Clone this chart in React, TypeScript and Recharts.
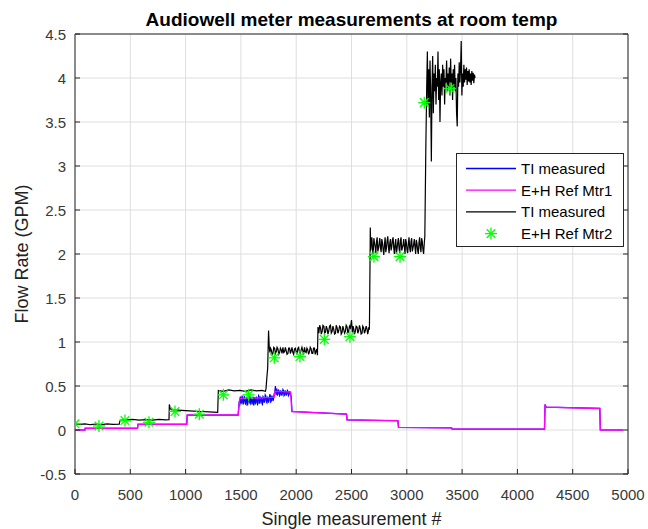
import {
  ComposedChart,
  Line,
  Scatter,
  XAxis,
  YAxis,
  CartesianGrid,
  Legend,
} from 'recharts';

const FONT = '"Liberation Sans", Arial, Helvetica, sans-serif';
const AXIS = '#262626';
const TEXT = '#383838';

const xTicks = [0, 500, 1000, 1500, 2000, 2500, 3000, 3500, 4000, 4500, 5000];
const yTicks = [-0.5, 0, 0.5, 1, 1.5, 2, 2.5, 3, 3.5, 4, 4.5];

// TI measured (blue), same as ref meter 1 except around 1500-1950
const tiMeasured1: [number, number][] = [
  [0, 0], [90, 0], [92, 0.02], [565, 0.02], [570, 0.065], [1010, 0.065], [1015, 0.17], [1475, 0.17],
  [1485, 0.33], [1490, 0.28], [1495, 0.38], [1500, 0.32], [1505, 0.3], [1510, 0.39], [1515, 0.36], [1520, 0.29],
  [1525, 0.31], [1530, 0.38], [1535, 0.37], [1540, 0.3], [1545, 0.29], [1550, 0.37], [1555, 0.35], [1560, 0.28],
  [1565, 0.32], [1570, 0.39], [1575, 0.38], [1580, 0.31], [1585, 0.3], [1590, 0.37], [1595, 0.36], [1600, 0.29],
  [1605, 0.33], [1610, 0.38], [1615, 0.28], [1620, 0.35], [1625, 0.37], [1630, 0.3], [1635, 0.31], [1640, 0.38],
  [1645, 0.35], [1650, 0.29], [1655, 0.3], [1660, 0.39], [1665, 0.38], [1670, 0.3], [1675, 0.32], [1680, 0.37],
  [1685, 0.36], [1690, 0.3], [1695, 0.29], [1700, 0.38], [1705, 0.37], [1710, 0.31], [1715, 0.33], [1720, 0.4],
  [1725, 0.39], [1730, 0.32], [1735, 0.31], [1740, 0.38], [1745, 0.36], [1750, 0.31], [1755, 0.34], [1760, 0.4],
  [1765, 0.4], [1770, 0.32], [1775, 0.33], [1780, 0.39], [1785, 0.37], [1790, 0.33], [1795, 0.35], [1800, 0.41],
  [1805, 0.42], [1812, 0.5], [1818, 0.4], [1825, 0.47], [1830, 0.39], [1835, 0.41], [1840, 0.46], [1845, 0.44],
  [1850, 0.39], [1855, 0.4], [1860, 0.45], [1865, 0.43], [1870, 0.39], [1875, 0.41], [1880, 0.46], [1885, 0.45],
  [1890, 0.39], [1895, 0.4], [1900, 0.45], [1905, 0.43], [1910, 0.39], [1915, 0.41], [1920, 0.45], [1925, 0.44],
  [1930, 0.39], [1935, 0.4], [1940, 0.44], [1945, 0.42], [1955, 0.38],
  [1962, 0.21], [2455, 0.18], [2460, 0.115], [2920, 0.105], [2925, 0.03], [3405, 0.025], [3410, 0.01],
  [4245, 0.01], [4250, 0.29], [4260, 0.26], [4745, 0.245], [4750, 0], [4955, 0],
];

const refMeter1: [number, number][] = [
  [0, 0], [90, 0], [92, 0.02], [565, 0.02], [570, 0.065], [1010, 0.065], [1015, 0.17], [1475, 0.17],
  [1490, 0.36], [1800, 0.37], [1808, 0.44], [1950, 0.43], [1960, 0.21], [2455, 0.18], [2460, 0.115],
  [2920, 0.105], [2925, 0.03], [3405, 0.025], [3410, 0.01], [4245, 0.01], [4250, 0.29], [4260, 0.26],
  [4745, 0.245], [4750, 0], [4955, 0],
];

// second TI measured trace (black)
const tiMeasured2: [number, number][] = [
  [0, 0.07], [40, 0.065], [90, 0.07], [140, 0.06], [190, 0.068], [240, 0.062], [290, 0.07], [340, 0.064], [400, 0.066],
  [407, 0.11], [460, 0.115], [520, 0.12], [580, 0.112], [640, 0.118], [700, 0.113], [760, 0.12], [820, 0.115], [850, 0.117],
  [853, 0.29], [860, 0.25], [870, 0.23], [930, 0.225], [1000, 0.22], [1070, 0.215], [1140, 0.21], [1210, 0.205], [1290, 0.2],
  [1296, 0.45], [1340, 0.44], [1390, 0.455], [1440, 0.445], [1490, 0.45], [1540, 0.44], [1590, 0.455], [1640, 0.445],
  [1690, 0.45], [1722, 0.44], [1727, 0.47], [1735, 0.6], [1742, 0.7], [1750, 1.13], [1756, 0.95], [1762, 0.88],
  [1768, 0.93], [1775, 0.91], [1782, 0.86], [1790, 0.87], [1797, 0.94], [1805, 0.93], [1812, 0.87], [1820, 0.89],
  [1827, 0.94], [1835, 0.92], [1842, 0.86], [1850, 0.88], [1857, 0.93], [1865, 0.91], [1872, 0.87], [1880, 0.94],
  [1887, 0.88], [1895, 0.89], [1902, 0.94], [1910, 0.9], [1917, 0.86], [1925, 0.87], [1932, 0.93], [1940, 0.93],
  [1947, 0.87], [1955, 0.9], [1962, 0.94], [1970, 0.88], [1977, 0.86], [1985, 0.92], [1992, 0.93], [2000, 0.89],
  [2007, 0.86], [2015, 0.93], [2022, 0.94], [2030, 0.88], [2037, 0.87], [2045, 0.91], [2052, 0.94], [2060, 0.9],
  [2067, 0.86], [2075, 0.94], [2082, 0.89], [2090, 0.88], [2097, 0.93], [2105, 0.91], [2112, 0.86], [2120, 0.89],
  [2127, 0.94], [2135, 0.92], [2142, 0.87], [2150, 0.87], [2157, 0.93], [2165, 0.93], [2172, 0.86], [2180, 0.9],
  [2187, 0.92], [2192, 0.85],
  [2197, 1.17], [2205, 1.1], [2212, 1.19], [2220, 1.16], [2227, 1.09], [2235, 1.12], [2242, 1.19], [2250, 1.18],
  [2257, 1.1], [2265, 1.11], [2272, 1.18], [2280, 1.15], [2287, 1.09], [2295, 1.13], [2302, 1.18], [2310, 1.19],
  [2317, 1.1], [2325, 1.12], [2332, 1.18], [2340, 1.14], [2347, 1.09], [2355, 1.1], [2362, 1.19], [2370, 1.16],
  [2377, 1.1], [2385, 1.13], [2392, 1.18], [2400, 1.17], [2407, 1.09], [2415, 1.11], [2422, 1.18], [2430, 1.14],
  [2437, 1.1], [2445, 1.12], [2452, 1.19], [2460, 1.17], [2467, 1.1], [2475, 1.13], [2482, 1.18], [2490, 1.16],
  [2500, 1.25], [2508, 1.11], [2514, 1.18], [2520, 1.15], [2527, 1.09], [2535, 1.12], [2542, 1.18], [2550, 1.17],
  [2557, 1.1], [2565, 1.13], [2572, 1.19], [2580, 1.15], [2587, 1.09], [2595, 1.1], [2602, 1.18], [2610, 1.16],
  [2617, 1.1], [2625, 1.13], [2632, 1.18], [2640, 1.15], [2646, 1.09], [2652, 1.12], [2657, 1.17], [2662, 1.14],
  [2667, 1.84], [2670, 2.3], [2674, 2.04], [2678, 2.12], [2684, 2.19], [2690, 2.05], [2696, 2.0], [2702, 2.18],
  [2708, 2.13], [2714, 2.08], [2720, 2.01], [2726, 2.14], [2732, 2.19], [2738, 2.03], [2744, 2.06], [2750, 2.12],
  [2756, 2.18], [2762, 2.07], [2768, 2.02], [2774, 2.17], [2780, 2.13], [2786, 2.05], [2792, 1.99], [2798, 2.11],
  [2804, 2.19], [2810, 2.02], [2816, 2.07], [2822, 2.15], [2828, 2.2], [2834, 2.08], [2840, 2.01], [2846, 2.12],
  [2852, 2.17], [2858, 2.04], [2864, 2.08], [2870, 2.16], [2876, 2.19], [2882, 2.07], [2888, 2.0], [2894, 2.11],
  [2900, 2.17], [2906, 2.0], [2912, 2.06], [2918, 2.13], [2924, 2.18], [2930, 2.06], [2936, 2.01], [2942, 2.15],
  [2948, 2.19], [2954, 2.04], [2960, 2.07], [2966, 2.1], [2972, 2.17], [2978, 2.08], [2984, 2.0], [2990, 2.17],
  [2996, 2.13], [3002, 2.05], [3008, 2.01], [3014, 2.12], [3020, 2.19], [3026, 2.07], [3032, 2.02], [3038, 2.14],
  [3044, 2.18], [3050, 2.03], [3056, 2.07], [3062, 2.11], [3068, 2.17], [3074, 2.08], [3080, 2.0], [3086, 2.16],
  [3092, 2.12], [3098, 2.04], [3104, 2.0], [3110, 2.13], [3116, 2.19], [3122, 2.07], [3128, 2.02], [3134, 2.18],
  [3140, 2.14], [3146, 2.05], [3152, 2.0], [3158, 2.12], [3163, 2.2],
  [3172, 3.2], [3180, 3.9], [3186, 4.3], [3192, 3.7], [3198, 4.1], [3204, 3.55], [3210, 4.2], [3216, 3.8],
  [3222, 3.05], [3228, 3.9], [3234, 4.25], [3240, 3.6], [3246, 4.05], [3252, 3.85], [3258, 4.15], [3264, 3.7],
  [3270, 4.0], [3276, 3.9], [3282, 4.3], [3288, 3.75], [3294, 4.1], [3300, 3.5], [3306, 3.95], [3312, 4.05],
  [3318, 3.8], [3324, 4.15], [3330, 3.9], [3336, 4.1], [3342, 3.7], [3348, 4.0], [3354, 3.95], [3360, 4.2],
  [3366, 3.85], [3372, 4.05], [3378, 3.9], [3384, 4.12], [3390, 3.8], [3396, 4.22], [3402, 3.95], [3408, 4.05],
  [3414, 3.75], [3420, 4.1], [3426, 3.9], [3432, 4.15], [3438, 3.85], [3444, 4.0], [3450, 3.6], [3456, 3.45],
  [3462, 4.05], [3468, 3.9], [3474, 4.18], [3480, 3.95], [3486, 4.1], [3492, 4.42], [3498, 3.8], [3504, 4.05],
  [3510, 3.9], [3516, 4.15], [3522, 3.95], [3528, 4.1], [3534, 3.98], [3540, 4.12], [3546, 3.92], [3552, 4.08],
  [3558, 3.96], [3564, 4.1], [3570, 3.95], [3576, 4.05], [3582, 3.92], [3588, 4.08], [3594, 3.97], [3600, 4.06],
  [3606, 3.94], [3612, 4.04], [3617, 4.0],
];

const refMeter2: [number, number][] = [
  [0, 0.07], [217, 0.046], [452, 0.107], [669, 0.088], [904, 0.21], [1124, 0.18], [1341, 0.4], [1570, 0.4],
  [1802, 0.82], [2034, 0.835], [2254, 1.03], [2486, 1.06], [2703, 1.97], [2939, 1.97], [3158, 3.72], [3390, 3.88],
];

const toPoints = (arr: [number, number][]) => arr.map(([idx, flow]) => ({ idx, flow }));

const legendItems = [
  { label: 'TI measured', color: '#0000ff', kind: 'line' },
  { label: 'E+H Ref Mtr1', color: '#ff00ff', kind: 'line' },
  { label: 'TI measured', color: '#000000', kind: 'line' },
  { label: 'E+H Ref Mtr2', color: '#00ff00', kind: 'star' },
];

function Asterisk({ cx, cy, r = 6, color = '#00ff00' }: any) {
  if (cx == null || cy == null) return null;
  const d = r * 0.72;
  return (
    <g stroke={color} strokeWidth={1.3}>
      <line x1={cx - r} y1={cy} x2={cx + r} y2={cy} />
      <line x1={cx} y1={cy - r} x2={cx} y2={cy + r} />
      <line x1={cx - d} y1={cy - d} x2={cx + d} y2={cy + d} />
      <line x1={cx - d} y1={cy + d} x2={cx + d} y2={cy - d} />
    </g>
  );
}

function BottomTick({ x, y, payload }: any) {
  return (
    <g>
      <line x1={x} y1={y} x2={x} y2={y - 5} stroke={AXIS} />
      <text x={x} y={y + 26} textAnchor="middle" fontSize={15} fill={TEXT} fontFamily={FONT}>
        {payload.value}
      </text>
    </g>
  );
}

function TopTick({ x, y }: any) {
  return <line x1={x} y1={y} x2={x} y2={y + 5} stroke={AXIS} />;
}

function LeftTick({ x, y, payload }: any) {
  return (
    <g>
      <line x1={x} y1={y} x2={x + 5} y2={y} stroke={AXIS} />
      <text x={x - 9} y={y + 5.5} textAnchor="end" fontSize={15} fill={TEXT} fontFamily={FONT}>
        {payload.value}
      </text>
    </g>
  );
}

function RightTick({ x, y }: any) {
  return <line x1={x} y1={y} x2={x - 5} y2={y} stroke={AXIS} />;
}

function LegendBox() {
  return (
    <svg width={168} height={94} style={{ display: 'block' }}>
      <rect x={0.5} y={0.5} width={167} height={93} fill="#fff" stroke={AXIS} />
      {legendItems.map((item, i) => {
        const cy = 15.5 + i * 21.7;
        return (
          <g key={i}>
            {item.kind === 'line' ? (
              <line x1={10} y1={cy} x2={60} y2={cy} stroke={item.color} strokeWidth={1.3} />
            ) : (
              <Asterisk cx={35} cy={cy} color={item.color} />
            )}
            <text x={65} y={cy + 5.5} fontSize={15} fill="#000" fontFamily={FONT}>
              {item.label}
            </text>
          </g>
        );
      })}
    </svg>
  );
}

export default function App() {
  return (
    <div style={{ position: 'absolute', left: 0, top: 0, width: 648, height: 529, background: '#fff' }}>
      <ComposedChart
        width={648}
        height={529}
        margin={{ top: 33, right: 19, bottom: 25, left: 15 }}
        style={{ fontFamily: FONT }}
      >
        <CartesianGrid stroke="#dedede" strokeWidth={1} />
        <XAxis
          dataKey="idx"
          type="number"
          domain={[0, 5000]}
          ticks={xTicks}
          interval={0}
          height={30}
          tickSize={0}
          tickMargin={0}
          tickLine={false}
          tick={<BottomTick />}
          axisLine={{ stroke: AXIS }}
          allowDataOverflow
          label={{ value: 'Single measurement #', position: 'bottom', offset: 8, style: { fontSize: 18, fill: '#222', fontFamily: FONT } }}
        />
        <XAxis
          xAxisId="top"
          orientation="top"
          type="number"
          domain={[0, 5000]}
          ticks={xTicks}
          interval={0}
          height={1}
          tickSize={0}
          tickMargin={0}
          tickLine={false}
          tick={<TopTick />}
          axisLine={{ stroke: AXIS }}
          allowDataOverflow
          label={{ value: 'Audiowell meter measurements at room temp', position: 'top', offset: 7, style: { fontSize: 19, fontWeight: 'bold', fill: '#000', fontFamily: FONT } }}
        />
        <YAxis
          type="number"
          domain={[-0.5, 4.5]}
          ticks={yTicks}
          interval={0}
          width={60}
          tickSize={0}
          tickMargin={0}
          tickLine={false}
          tick={<LeftTick />}
          axisLine={{ stroke: AXIS }}
          allowDataOverflow
          label={{ value: 'Flow Rate (GPM)', angle: -90, position: 'insideLeft', offset: 7, style: { fontSize: 18, fill: '#222', textAnchor: 'middle', fontFamily: FONT } }}
        />
        <YAxis
          yAxisId="right"
          orientation="right"
          type="number"
          domain={[-0.5, 4.5]}
          ticks={yTicks}
          interval={0}
          width={1}
          tickSize={0}
          tickMargin={0}
          tickLine={false}
          tick={<RightTick />}
          axisLine={{ stroke: AXIS }}
          allowDataOverflow
        />
        <Line
          data={toPoints(tiMeasured1)}
          dataKey="flow"
          name="TI measured"
          stroke="#0000ff"
          strokeWidth={1.2}
          dot={false}
          activeDot={false}
          type="linear"
          isAnimationActive={false}
        />
        <Line
          data={toPoints(refMeter1)}
          dataKey="flow"
          name="E+H Ref Mtr1"
          stroke="#ff00ff"
          strokeWidth={1.4}
          dot={false}
          activeDot={false}
          type="linear"
          isAnimationActive={false}
        />
        <Line
          data={toPoints(tiMeasured2)}
          dataKey="flow"
          name="TI measured"
          stroke="#000000"
          strokeWidth={1.2}
          dot={false}
          activeDot={false}
          type="linear"
          isAnimationActive={false}
        />
        <Scatter
          data={toPoints(refMeter2)}
          dataKey="flow"
          name="E+H Ref Mtr2"
          shape={(p: any) => <Asterisk cx={p.cx} cy={p.cy} />}
          isAnimationActive={false}
        />
        <Legend
          layout="horizontal"
          verticalAlign="middle"
          align="center"
          content={() => <LegendBox />}
          wrapperStyle={{ left: 456, top: 153, width: 168, height: 94 }}
        />
      </ComposedChart>
    </div>
  );
}
